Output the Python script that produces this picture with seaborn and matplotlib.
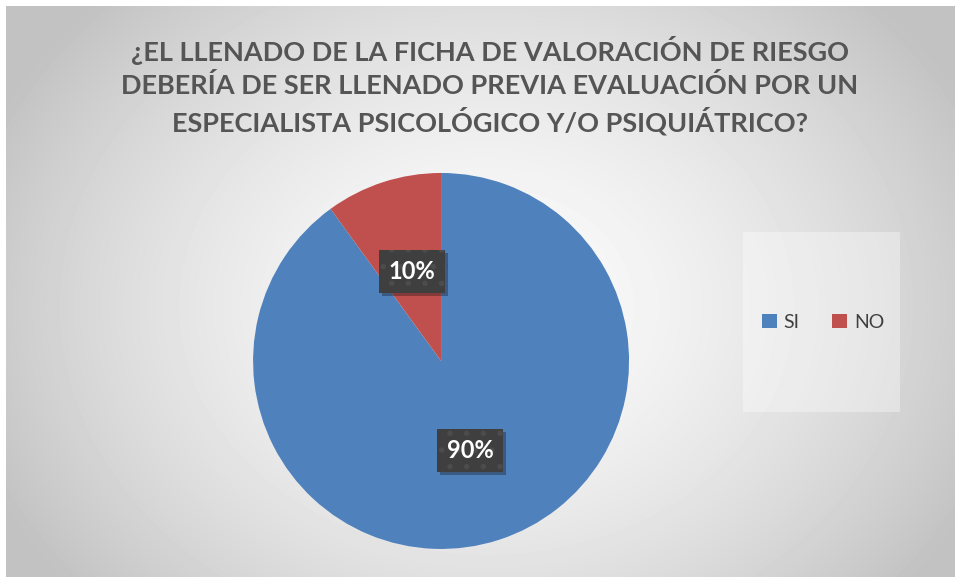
import numpy as np
import matplotlib.pyplot as plt
import matplotlib.patheffects as pe
import seaborn as sns

# data
labels = ['SI', 'NO']
values = [90, 10]
colors = ['#4F81BD', '#C0504D']
title = ('¿EL LLENADO DE LA FICHA DE VALORACIÓN DE RIESGO\n'
         'DEBERÍA DE SER LLENADO PREVIA EVALUACIÓN POR UN\n'
         'ESPECIALISTA PSICOLÓGICO Y/O PSIQUIÁTRICO?')

sns.set_style('white')
plt.rcParams['font.family'] = ['Lato', 'DejaVu Sans']
plt.rcParams['hatch.linewidth'] = 1.5

fig = plt.figure(figsize=(9.55, 5.77), dpi=100)
fig.patch.set_facecolor('white')

# radial gradient background
bg = fig.add_axes([6 / 955, 0, 949 / 955, 571 / 577])
yy, xx = np.mgrid[0:571, 0:949]
d = np.sqrt(((xx - 480) / 520) ** 2 + ((yy - 300) / 420) ** 2)
shade = np.clip(0.985 - 0.21 * d ** 1.6, 0.76, 1)
bg.imshow(shade, cmap='gray', vmin=0, vmax=1, aspect='auto', interpolation='bilinear')
bg.axis('off')

# legend panel
fig.patches.append(plt.Rectangle((743 / 955, 1 - 412 / 577), 157 / 955, 180 / 577,
                                 transform=fig.transFigure, facecolor='white',
                                 alpha=0.35, edgecolor='none', zorder=1))

# pie
ax = fig.add_axes([0.265, 0.0486, 0.3937, 0.6516])
ax.set_facecolor('none')
wedges, _, autotexts = ax.pie(values, colors=colors, startangle=90, counterclock=False,
                              autopct='%1.0f%%', pctdistance=0.5, radius=1,
                              wedgeprops=dict(linewidth=0))
for t in autotexts:
    t.set_color('white')
    t.set_fontsize(17)
    t.set_fontweight('bold')
    t.set_bbox(dict(boxstyle='square,pad=0.42', facecolor='#3f3f3f', edgecolor='#4c4c4c',
                    hatch='.', linewidth=0))
    t.get_bbox_patch().set_path_effects([pe.SimplePatchShadow(offset=(2, -2), alpha=0.35),
                                         pe.Normal()])
ax.set_xlim(-1, 1)
ax.set_ylim(-1, 1)

fig.text(490 / 955, 1 - 86 / 577, title, ha='center', va='center', fontsize=19.5,
         fontweight='bold', color='#555555', linespacing=1.38)

fig.legend(wedges, labels, loc='center', bbox_to_anchor=(823 / 955, 1 - 322 / 577),
           ncol=2, frameon=False, fontsize=14, handlelength=0.75, handleheight=0.75,
           columnspacing=1.7, handletextpad=0.35, labelcolor='#404040')

plt.savefig('out.png', dpi=100)
